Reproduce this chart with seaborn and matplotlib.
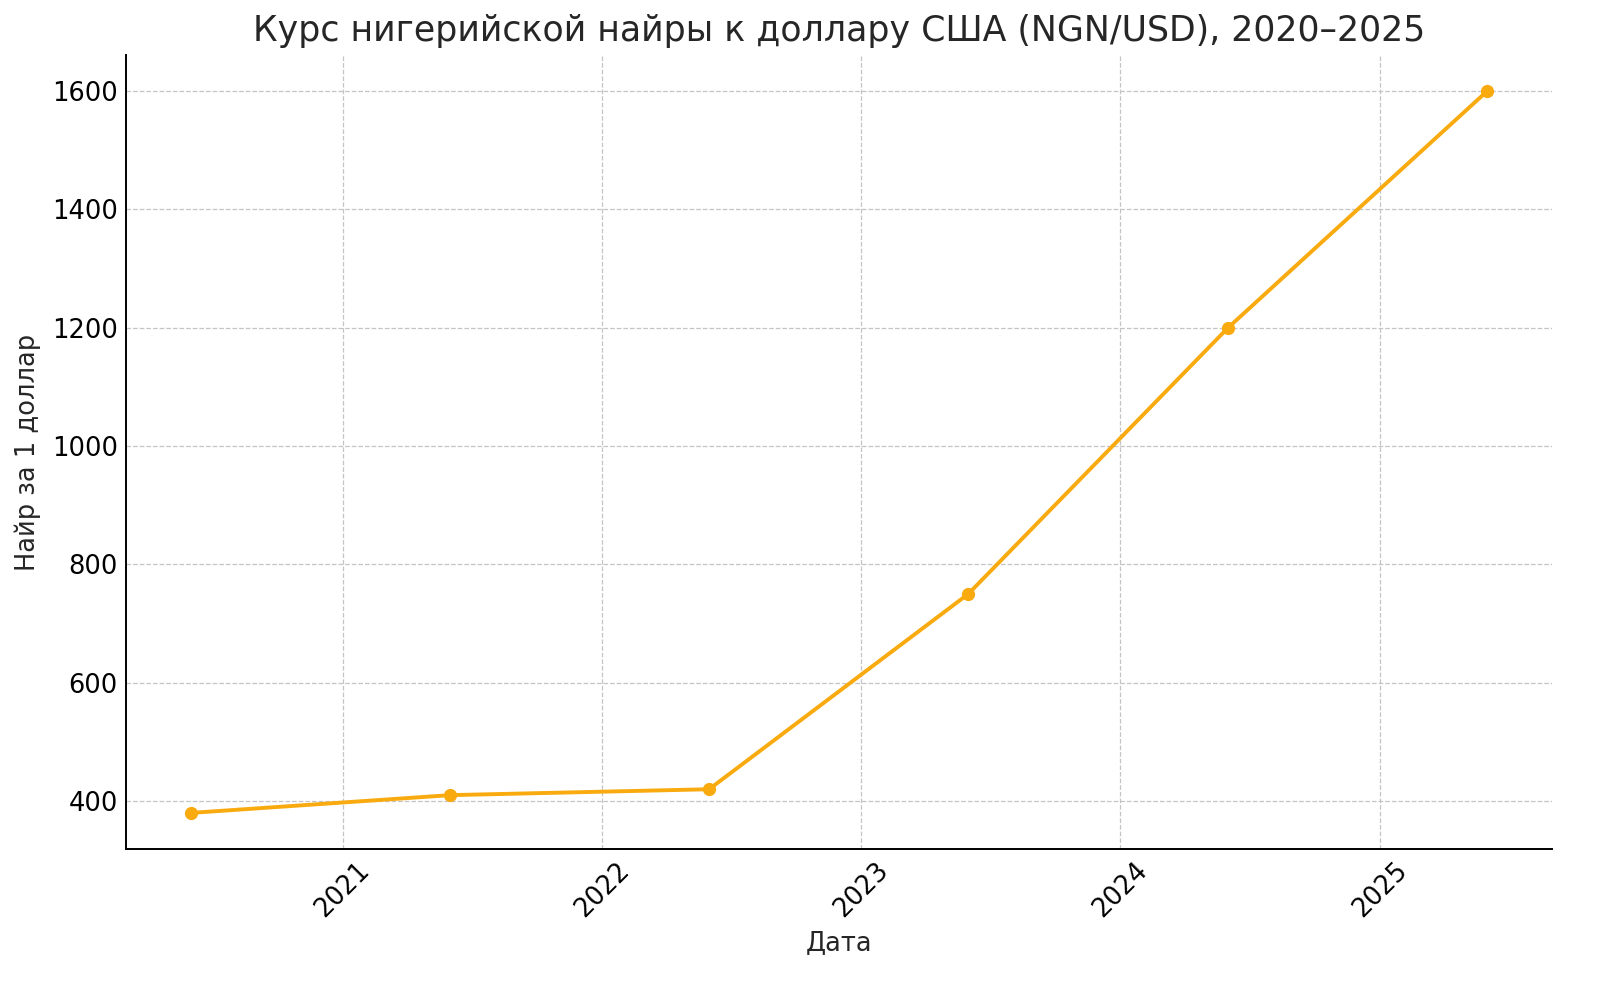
import pandas as pd
import numpy as np
import matplotlib
matplotlib.use("Agg")
import matplotlib.pyplot as plt
import matplotlib.dates as mdates
import seaborn as sns

dates = ["2020-06-01", "2021-06-01", "2022-06-01", "2023-06-01", "2024-06-01", "2025-06-01"]
rates = [380, 410, 420, 750, 1200, 1600]

df = pd.DataFrame({"Дата": pd.to_datetime(dates), "Курс": rates})

sns.set_style("whitegrid")
plt.rcParams["font.family"] = ["DejaVu Sans"]

fig = plt.figure(figsize=(16, 9.94), dpi=100)
ax = fig.add_axes([126 / 1600, 1 - 849 / 994, (1552 - 126) / 1600, (849 - 55) / 994])

sns.lineplot(data=df, x="Дата", y="Курс", ax=ax, color="#F8AA0E", linewidth=2.8,
             marker="o", markersize=9.5, markeredgewidth=0)

ax.xaxis.set_major_locator(mdates.YearLocator())
ax.xaxis.set_major_formatter(mdates.DateFormatter("%Y"))
ax.set_yticks([400, 600, 800, 1000, 1200, 1400, 1600])

ax.grid(True, linestyle="--", color="#c4c4c4", linewidth=0.9)
for s in ["top", "right"]:
    ax.spines[s].set_visible(False)
for s in ["left", "bottom"]:
    ax.spines[s].set_color("black")
    ax.spines[s].set_linewidth(1.4)

ax.tick_params(axis="both", direction="in", length=4, width=1.2, colors="black",
               labelsize=18.5, pad=6)
plt.setp(ax.get_xticklabels(), rotation=45)

ax.set_title("Курс нигерийской найры к доллару США (NGN/USD), 2020–2025",
             fontsize=25, color="#262626", pad=10)
ax.set_xlabel("Дата", fontsize=18.5, color="#262626", labelpad=6)
ax.set_ylabel("Найр за 1 доллар", fontsize=18.5, color="#262626", labelpad=8)

fig.savefig("out.png", dpi=100)
